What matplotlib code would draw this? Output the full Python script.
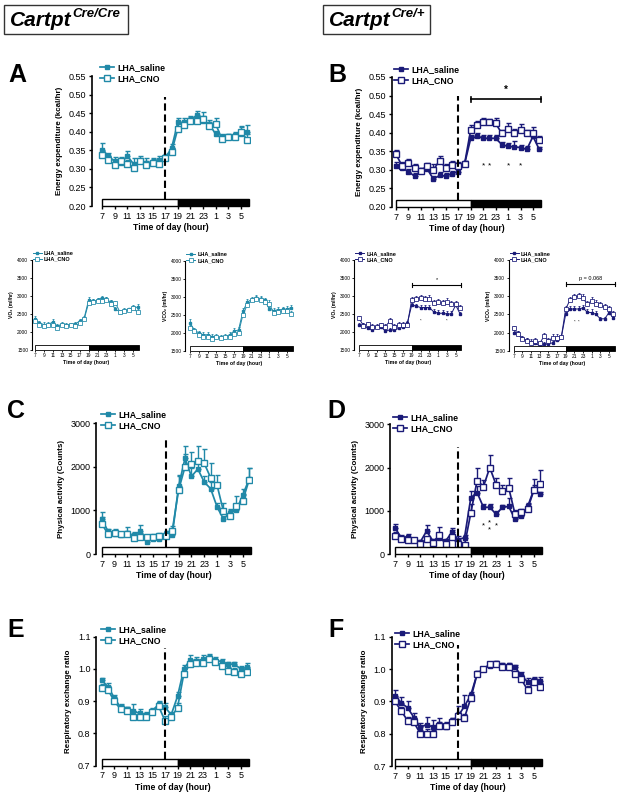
import numpy as np
import matplotlib
matplotlib.use("Agg")
import matplotlib.pyplot as plt
from matplotlib.lines import Line2D
from matplotlib.patches import Rectangle

plt.rcParams['font.family'] = ['Liberation Sans', 'DejaVu Sans']

W, H = 617, 792
TEAL = '#2089a8'
NAVY = '#1a1a78'

# hours 7..30 (30 = 6 am next day)
hours = np.arange(7, 31)
tick_hours = np.arange(7, 30, 2)
tick_labels = [str(h % 24) for h in tick_hours]

# ---- A: energy expenditure, Cre/Cre
ee_cc_sal = [0.352, 0.335, 0.320, 0.315, 0.335, 0.313, 0.320, 0.316, 0.318, 0.325, 0.330, 0.355,
             0.425, 0.425, 0.430, 0.445, 0.430, 0.420, 0.393, 0.383, 0.385, 0.390, 0.395, 0.400]
ee_cc_sal_err = [0.018, 0.008, 0.012, 0.012, 0.012, 0.015, 0.015, 0.012, 0.012, 0.010, 0.010, 0.012,
                 0.012, 0.012, 0.012, 0.010, 0.012, 0.012, 0.010, 0.010, 0.010, 0.010, 0.018, 0.018]
ee_cc_cno = [0.338, 0.325, 0.310, 0.322, 0.313, 0.302, 0.320, 0.310, 0.316, 0.312, 0.330, 0.345,
             0.408, 0.418, 0.430, 0.430, 0.435, 0.415, 0.420, 0.380, 0.385, 0.385, 0.400, 0.378]
ee_cc_cno_err = [0.010, 0.010, 0.010, 0.010, 0.010, 0.015, 0.010, 0.010, 0.010, 0.012, 0.008, 0.010,
                 0.015, 0.012, 0.010, 0.012, 0.018, 0.012, 0.018, 0.010, 0.010, 0.010, 0.015, 0.015]

# ---- B: energy expenditure, Cre/+
ee_cp_sal = [0.310, 0.305, 0.295, 0.283, 0.297, 0.303, 0.275, 0.285, 0.283, 0.290, 0.295, 0.315,
             0.385, 0.390, 0.385, 0.385, 0.385, 0.368, 0.363, 0.362, 0.360, 0.355, 0.390, 0.355]
ee_cp_sal_err = [0.010, 0.008, 0.008, 0.008, 0.008, 0.010, 0.008, 0.008, 0.008, 0.008, 0.010, 0.008,
                 0.010, 0.010, 0.008, 0.008, 0.008, 0.008, 0.010, 0.015, 0.008, 0.008, 0.010, 0.006]
ee_cp_cno = [0.342, 0.310, 0.318, 0.305, 0.298, 0.310, 0.300, 0.325, 0.305, 0.312, 0.310, 0.315,
             0.408, 0.420, 0.428, 0.428, 0.425, 0.398, 0.410, 0.400, 0.408, 0.398, 0.400, 0.380]
ee_cp_cno_err = [0.012, 0.012, 0.010, 0.010, 0.008, 0.008, 0.015, 0.012, 0.010, 0.012, 0.012, 0.008,
                 0.012, 0.012, 0.012, 0.010, 0.015, 0.010, 0.015, 0.010, 0.015, 0.010, 0.015, 0.012]

# ---- VO2 / VCO2, Cre/Cre
vo2_cc_sal = [2350, 2250, 2200, 2200, 2280, 2150, 2220, 2200, 2200, 2220, 2300, 2380,
              2880, 2850, 2880, 2950, 2900, 2820, 2620, 2560, 2600, 2620, 2680, 2680]
vo2_cc_sal_err = [100, 60, 60, 50, 80, 60, 60, 50, 50, 60, 60, 60, 80, 60, 60, 50, 60, 60, 60, 50, 50, 50, 60, 80]
vo2_cc_cno = [2300, 2200, 2150, 2200, 2200, 2100, 2200, 2150, 2180, 2150, 2250, 2350,
              2800, 2830, 2860, 2860, 2880, 2780, 2800, 2550, 2580, 2600, 2650, 2540]
vo2_cc_cno_err = [80, 50, 50, 60, 60, 50, 50, 60, 50, 60, 60, 60, 80, 80, 80, 80, 80, 100, 50, 50, 50, 60, 60, 80]

vco2_cc_sal = [2280, 2080, 2000, 1950, 1950, 1900, 1900, 1880, 1900, 1950, 2050, 2080,
               2600, 2850, 2930, 2980, 2950, 2900, 2650, 2620, 2640, 2650, 2660, 2700]
vco2_cc_sal_err = [100, 60, 60, 80, 80, 60, 60, 60, 60, 80, 80, 80, 100, 80, 60, 60, 60, 60, 60, 60, 80, 80, 80, 80]
vco2_cc_cno = [2150, 2050, 1950, 1900, 1880, 1830, 1880, 1850, 1880, 1900, 1980, 2000,
               2500, 2780, 2900, 2950, 2920, 2870, 2800, 2560, 2580, 2600, 2600, 2520]
vco2_cc_cno_err = [80, 60, 60, 60, 60, 60, 60, 60, 60, 60, 80, 80, 100, 100, 80, 80, 80, 80, 100, 60, 60, 60, 80, 80]

# ---- VO2 / VCO2, Cre/+
vo2_cp_sal = [2200, 2180, 2100, 2050, 2150, 2150, 2020, 2060, 2050, 2100, 2150, 2250,
              2750, 2720, 2680, 2680, 2680, 2560, 2520, 2520, 2500, 2500, 2750, 2500]
vo2_cp_sal_err = [60, 60, 60, 50, 50, 60, 50, 50, 50, 60, 60, 60, 60, 60, 60, 60, 60, 80, 100, 100, 80, 80, 60, 60]
vo2_cp_cno = [2380, 2180, 2220, 2150, 2150, 2200, 2150, 2300, 2150, 2200, 2200, 2200,
              2900, 2930, 2950, 2930, 2930, 2800, 2830, 2800, 2840, 2780, 2780, 2680]
vo2_cp_cno_err = [60, 80, 60, 60, 60, 60, 60, 100, 60, 80, 80, 60, 80, 80, 80, 80, 100, 80, 100, 100, 100, 80, 80, 80]

vco2_cp_sal = [2000, 1980, 1850, 1780, 1750, 1720, 1620, 1680, 1680, 1720, 1800, 1880,
               2500, 2650, 2650, 2650, 2680, 2560, 2550, 2500, 2380, 2380, 2550, 2400]
vco2_cp_sal_err = [60, 60, 60, 60, 60, 60, 50, 60, 60, 60, 60, 60, 80, 80, 80, 80, 80, 80, 100, 100, 60, 60, 80, 60]
vco2_cp_cno = [2120, 1950, 1820, 1780, 1700, 1780, 1700, 1900, 1780, 1850, 1860, 1880,
               2650, 2900, 2980, 3000, 2950, 2780, 2880, 2800, 2750, 2700, 2650, 2520]
vco2_cp_cno_err = [60, 80, 60, 80, 60, 60, 60, 100, 80, 100, 100, 60, 80, 80, 80, 80, 100, 80, 100, 100, 100, 80, 80, 80]

# ---- C / D: physical activity
pa_cc_sal = [800, 520, 450, 430, 480, 430, 520, 280, 350, 340, 450, 430,
             1550, 2200, 1780, 1950, 1650, 1500, 1080, 800, 950, 1000, 1350, 1720]
pa_cc_sal_err = [170, 50, 80, 50, 150, 80, 150, 50, 60, 60, 80, 80,
                 250, 280, 200, 200, 150, 150, 100, 80, 80, 150, 150, 250]
pa_cc_cno = [700, 450, 480, 450, 450, 370, 400, 380, 400, 420, 420, 530,
             1470, 2000, 2060, 2130, 2080, 1750, 1580, 980, 870, 1100, 1220, 1700]
pa_cc_cno_err = [150, 60, 100, 60, 80, 60, 80, 50, 60, 60, 100, 120,
                 350, 300, 290, 350, 340, 330, 240, 200, 150, 230, 150, 280]

pa_cp_sal = [600, 380, 400, 320, 280, 530, 300, 380, 300, 500, 330, 380,
             1300, 1420, 1080, 1080, 920, 1080, 1100, 800, 880, 1100, 1500, 1380]
pa_cp_sal_err = [100, 50, 60, 50, 50, 150, 50, 50, 50, 100, 80, 60,
                 150, 150, 80, 80, 80, 60, 200, 100, 80, 80, 100, 60]
pa_cp_cno = [420, 350, 320, 320, 230, 350, 260, 440, 220, 400, 220, 200,
             950, 1700, 1560, 2000, 1600, 1450, 1530, 920, 960, 1050, 1480, 1620]
pa_cp_cno_err = [80, 50, 50, 50, 50, 50, 50, 180, 50, 150, 60, 60,
                 200, 300, 150, 300, 150, 150, 230, 100, 80, 100, 250, 330]

# ---- E / F: respiratory exchange ratio
rer_cc_sal = [0.965, 0.945, 0.910, 0.880, 0.875, 0.870, 0.862, 0.858, 0.870, 0.890, 0.882, 0.858,
              0.915, 1.000, 1.028, 1.025, 1.030, 1.035, 1.028, 1.022, 1.015, 1.015, 1.000, 1.005]
rer_cc_sal_err = [0.008, 0.012, 0.010, 0.010, 0.008, 0.020, 0.015, 0.010, 0.008, 0.012, 0.012, 0.010,
                  0.012, 0.012, 0.015, 0.012, 0.012, 0.010, 0.008, 0.008, 0.008, 0.008, 0.008, 0.012]
rer_cc_cno = [0.940, 0.935, 0.900, 0.875, 0.870, 0.850, 0.852, 0.850, 0.865, 0.885, 0.840, 0.850,
              0.880, 0.985, 1.015, 1.020, 1.020, 1.032, 1.022, 1.010, 0.995, 0.990, 0.985, 0.990]
rer_cc_cno_err = [0.012, 0.012, 0.012, 0.012, 0.012, 0.015, 0.012, 0.012, 0.012, 0.012, 0.015, 0.012,
                  0.015, 0.015, 0.012, 0.012, 0.012, 0.010, 0.010, 0.010, 0.012, 0.012, 0.012, 0.012]

rer_cp_sal = [0.918, 0.895, 0.880, 0.850, 0.820, 0.828, 0.820, 0.830, 0.820, 0.838, 0.855, 0.885,
              0.920, 0.985, 1.000, 1.010, 1.020, 1.012, 1.012, 1.005, 0.980, 0.960, 0.965, 0.962]
rer_cp_sal_err = [0.018, 0.018, 0.022, 0.015, 0.012, 0.025, 0.022, 0.018, 0.012, 0.012, 0.030, 0.035,
                  0.010, 0.008, 0.006, 0.006, 0.006, 0.006, 0.006, 0.008, 0.012, 0.012, 0.010, 0.012]
rer_cp_cno = [0.900, 0.870, 0.840, 0.835, 0.800, 0.800, 0.800, 0.825, 0.825, 0.835, 0.855, 0.850,
              0.910, 0.985, 1.000, 1.015, 1.015, 1.005, 1.005, 0.985, 0.968, 0.935, 0.960, 0.945]
rer_cp_cno_err = [0.012, 0.012, 0.012, 0.012, 0.012, 0.015, 0.012, 0.012, 0.012, 0.012, 0.012, 0.012,
                  0.012, 0.008, 0.006, 0.006, 0.006, 0.008, 0.008, 0.010, 0.010, 0.012, 0.012, 0.012]


fig = plt.figure(figsize=(W / 100, H / 100), dpi=100)


def make_axes(spine, x7, x5, ytop, ybot, ylim):
    # place axes from pixel positions
    scale = (x5 - x7) / 22.0
    left_lim = 7 - (x7 - spine) / scale
    right_lim = 30.45
    right_px = x7 + (right_lim - 7) * scale
    ax = fig.add_axes([spine / W, 1 - ybot / H, (right_px - spine) / W, (ybot - ytop) / H])
    ax.set_xlim(left_lim, right_lim)
    ax.set_ylim(*ylim)
    return ax


def draw_panel(ax, color, sal, sal_err, cno, cno_err, yticks, ylabels, ylabel,
               dash_top=None, small=False, leg_xy=(0.02, 1.08)):
    lw = 0.7 if small else 1.25
    ms = 1.8 if small else 3.0
    cap = 1.0 if small else 1.8
    fs_tick = 3.5 if small else 6.5
    fs_lab = 3.6 if small else 5.8
    fs_leg = 4.0 if small else 6.3
    z = np.zeros(len(hours))
    ax.errorbar(hours, sal, yerr=[z, sal_err], color=color, lw=lw, marker='s', ms=ms,
                mfc=color, mec=color, capsize=cap, elinewidth=lw * 0.8, capthick=lw * 0.8, zorder=3)
    ax.errorbar(hours, cno, yerr=[z, cno_err], color=color, lw=lw, marker='s', ms=ms * 1.35,
                mfc='white', mec=color, mew=lw * 0.8, capsize=cap, elinewidth=lw * 0.8,
                capthick=lw * 0.8, zorder=4)

    # light / dark bar
    tr = ax.get_xaxis_transform()
    bh = 0.055
    blw = 0.6 if small else 1.0
    ax.add_patch(Rectangle((7, 0), 12, bh, transform=tr, facecolor='white', edgecolor='black',
                           lw=blw, clip_on=False, zorder=5))
    ax.add_patch(Rectangle((19, 0), 11.3, bh, transform=tr, facecolor='black', edgecolor='black',
                           lw=blw, clip_on=False, zorder=5))

    y0, y1 = ax.get_ylim()
    if dash_top is not None:
        ax.plot([17, 17], [y0 + bh * (y1 - y0), dash_top], color='black', lw=1.5,
                ls=(0, (3.5, 1.8)), zorder=6)

    for s in ['top', 'right', 'bottom']:
        ax.spines[s].set_visible(False)
    ax.spines['left'].set_linewidth(0.8 if small else 1.2)
    ax.set_xticks(tick_hours, tick_labels)
    ax.set_yticks(yticks, ylabels)
    ax.tick_params(axis='both', labelsize=fs_tick, length=1.5 if small else 2.5,
                   width=0.6 if small else 1.0, pad=1.0 if small else 1.5)
    ax.set_xlabel('Time of day (hour)', fontsize=fs_lab + (0.2 if small else 0.4),
                  fontweight='bold', labelpad=1.0 if small else 2.0)
    ax.set_ylabel(ylabel, fontsize=fs_lab, fontweight='bold', labelpad=2.0 if small else 4.0)

    handles = [Line2D([], [], color=color, lw=lw, marker='s', ms=ms, mfc=color, mec=color),
               Line2D([], [], color=color, lw=lw, marker='s', ms=ms * 1.35, mfc='white',
                      mec=color, mew=lw * 0.8)]
    ax.legend(handles, ['LHA_saline', 'LHA_CNO'], loc='upper left', bbox_to_anchor=leg_xy,
              frameon=False, prop=dict(weight='bold', size=fs_leg), handlelength=1.6,
              handletextpad=0.4, labelspacing=0.25, borderpad=0, borderaxespad=0)


def bracket(ax, x0, x1, y, tick, lw=1.2):
    ax.plot([x0, x1], [y, y], color='black', lw=lw, clip_on=False, zorder=6)
    for xx in (x0, x1):
        ax.plot([xx, xx], [y - tick, y + tick], color='black', lw=lw, clip_on=False, zorder=6)


ee_ticks = [0.20, 0.25, 0.30, 0.35, 0.40, 0.45, 0.50, 0.55]
ee_lbls = [f'{v:.2f}' for v in ee_ticks]
v_ticks = [1500, 2000, 2500, 3000, 3500, 4000]
v_lbls = [str(v) for v in v_ticks]
pa_ticks = [0, 1000, 2000, 3000]
pa_lbls = [str(v) for v in pa_ticks]
rer_ticks = [0.7, 0.8, 0.9, 1.0, 1.1]
rer_lbls = [f'{v:.1f}' for v in rer_ticks]

# A
axA = make_axes(92, 102, 241, 76, 206, (0.20, 0.55))
draw_panel(axA, TEAL, ee_cc_sal, ee_cc_sal_err, ee_cc_cno, ee_cc_cno_err, ee_ticks, ee_lbls,
           'Energy expenditure (kcal/hr)', dash_top=0.493, leg_xy=(0.05, 1.10))
# B
axB = make_axes(392, 396, 533, 77, 207, (0.20, 0.55))
draw_panel(axB, NAVY, ee_cp_sal, ee_cp_sal_err, ee_cp_cno, ee_cp_cno_err, ee_ticks, ee_lbls,
           'Energy expenditure (kcal/hr)', dash_top=0.50, leg_xy=(0.01, 1.09))
bracket(axB, 19, 30.3, 0.49, 0.007)
axB.text(24.7, 0.502, '*', ha='center', va='bottom', fontsize=7, fontweight='bold')
for h in [21, 22, 25, 27]:
    axB.text(h, 0.312, '*', ha='center', va='center', fontsize=6)

# small VO2 / VCO2 panels
axV1 = make_axes(31.7, 35, 133.3, 259.5, 350, (1500, 4000))
draw_panel(axV1, TEAL, vo2_cc_sal, vo2_cc_sal_err, vo2_cc_cno, vo2_cc_cno_err, v_ticks, v_lbls,
           'VO₂ (ml/hr)', small=True, leg_xy=(0.01, 1.10))
axV2 = make_axes(185, 190, 287, 260.7, 351, (1500, 4000))
draw_panel(axV2, TEAL, vco2_cc_sal, vco2_cc_sal_err, vco2_cc_cno, vco2_cc_cno_err, v_ticks, v_lbls,
           'VCO₂ (ml/hr)', small=True, leg_xy=(0.01, 1.10))
axV3 = make_axes(354, 359, 455.7, 260, 350, (1500, 4000))
draw_panel(axV3, NAVY, vo2_cp_sal, vo2_cp_sal_err, vo2_cp_cno, vo2_cp_cno_err, v_ticks, v_lbls,
           'VO₂ (ml/hr)', small=True, leg_xy=(0.01, 1.10))
bracket(axV3, 19, 30.3, 3300, 60, lw=0.8)
axV3.text(24.7, 3380, '*', ha='center', va='bottom', fontsize=4)
for h in [21, 27]:
    axV3.text(h, 2300, '*', ha='center', va='center', fontsize=3)
axV4 = make_axes(508.7, 513.7, 609, 260, 350.7, (1500, 4000))
draw_panel(axV4, NAVY, vco2_cp_sal, vco2_cp_sal_err, vco2_cp_cno, vco2_cp_cno_err, v_ticks, v_lbls,
           'VCO₂ (ml/hr)', small=True, leg_xy=(0.01, 1.10))
bracket(axV4, 19, 30.4, 3330, 60, lw=0.8)
axV4.text(24.7, 3420, 'p = 0.068', ha='center', va='bottom', fontsize=4)
for h in [21, 22]:
    axV4.text(h, 2300, '*', ha='center', va='center', fontsize=3)

# C
axC = make_axes(96, 101.7, 242.7, 423.3, 554, (0, 3000))
draw_panel(axC, TEAL, pa_cc_sal, pa_cc_sal_err, pa_cc_cno, pa_cc_cno_err, pa_ticks, pa_lbls,
           'Physical activity (Counts)', dash_top=2620, leg_xy=(0.03, 1.10))
# D
axD = make_axes(390, 395, 534, 424.3, 554, (0, 3000))
draw_panel(axD, NAVY, pa_cp_sal, pa_cp_sal_err, pa_cp_cno, pa_cp_cno_err, pa_ticks, pa_lbls,
           'Physical activity (Counts)', dash_top=2480, leg_xy=(0.02, 1.09))
axD.text(21, 640, '*', ha='center', va='center', fontsize=5.5)
axD.text(22, 720, '*', ha='center', va='center', fontsize=5.5)
axD.text(22, 560, '*', ha='center', va='center', fontsize=5.5)
axD.text(23, 640, '*', ha='center', va='center', fontsize=5.5)

# E
axE = make_axes(96, 101.7, 240.7, 636.7, 765.7, (0.7, 1.1))
draw_panel(axE, TEAL, rer_cc_sal, rer_cc_sal_err, rer_cc_cno, rer_cc_cno_err, rer_ticks, rer_lbls,
           'Respiratory exchange ratio', dash_top=1.064, leg_xy=(0.03, 1.09))
# F
axF = make_axes(391.7, 395, 534, 636.7, 766, (0.7, 1.1))
draw_panel(axF, NAVY, rer_cp_sal, rer_cp_sal_err, rer_cp_cno, rer_cp_cno_err, rer_ticks, rer_lbls,
           'Respiratory exchange ratio', dash_top=1.074, leg_xy=(0.02, 1.06))

# panel letters
for letter, x, y in [('A', 8, 82), ('B', 328, 82), ('C', 7, 418), ('D', 327, 418),
                     ('E', 7, 637), ('F', 328, 637)]:
    fig.text(x / W, 1 - y / H, letter, fontsize=18, fontweight='bold', va='baseline', ha='left')

# genotype header boxes
fig.canvas.draw()
renderer = fig.canvas.get_renderer()
for (bx0, bx1, sup) in [(4, 128, 'Cre/Cre'), (323, 430, 'Cre/+')]:
    fig.patches.append(Rectangle((bx0 / W, 1 - 34 / H), (bx1 - bx0) / W, 29 / H,
                                 transform=fig.transFigure, facecolor='white',
                                 edgecolor='#333333', lw=1.0))
    t = fig.text((bx0 + 6) / W, 1 - 26.5 / H, 'Cartpt', fontsize=15, fontweight='bold',
                 fontstyle='italic', va='baseline', ha='left')
    bb = t.get_window_extent(renderer)
    fig.text(bb.x1 / W + 0.5 / W, 1 - 17 / H, sup, fontsize=9.5, fontweight='bold',
             fontstyle='italic', va='baseline', ha='left')

fig.savefig('out.png', dpi=100)
